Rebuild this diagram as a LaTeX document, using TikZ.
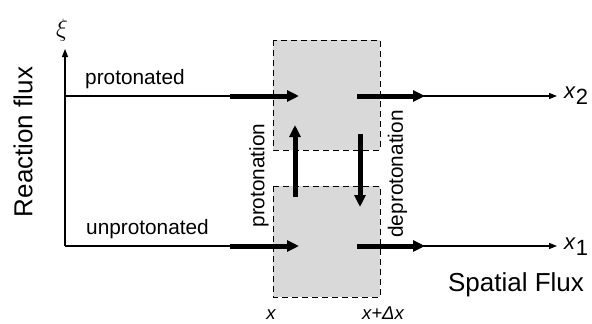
\documentclass[tikz,border=0pt]{standalone}
\usepackage{fontspec}
\setmainfont{Liberation Sans}
\usetikzlibrary{arrows.meta}
\tikzset{
  thinarrow/.style={line width=1.1pt,-{Triangle[length=8pt,width=6pt]}},
  thickarrow/.style={line width=5pt,-{Triangle[length=12pt,width=11pt]}},
  cellbox/.style={fill=black!15,draw=black,line width=0.9pt,dash pattern=on 6pt off 4pt},
  lbl/.style={inner sep=0pt,font=\fontsize{20.8}{24}\selectfont},
  biglbl/.style={inner sep=0pt,font=\fontsize{26}{30}\selectfont},
  xlbl/.style={inner sep=0pt,font=\fontsize{18.5}{20}\selectfont\itshape},
}
\begin{document}
\begin{tikzpicture}[x=1pt,y=-1pt]
\useasboundingbox (0,0) rectangle (592,324);
% coordinates
\coordinate (origin) at (65,246);
\coordinate (ytop) at (65,49);
\coordinate (topstart) at (65,96);
\coordinate (topend) at (557,96);
\coordinate (botend) at (557,246);
% thin lines
\draw[thinarrow] (origin) -- (ytop);
\draw[thinarrow] (topstart) -- (topend);
\draw[thinarrow] (origin) -- (botend);
% boxes
\draw[cellbox] (273,40) rectangle (380,150);
\draw[cellbox] (273,186) rectangle (380,297);
% thick arrows
\coordinate (a1) at (230,96); \coordinate (a2) at (299,96);
\coordinate (a3) at (357,96); \coordinate (a4) at (425,96);
\coordinate (b1) at (230,246); \coordinate (b2) at (299,246);
\coordinate (b3) at (357,246); \coordinate (b4) at (425,246);
\coordinate (u1) at (295,197); \coordinate (u2) at (295,125);
\coordinate (d1) at (360,134); \coordinate (d2) at (360,207);
\draw[thickarrow] (a1) -- (a2);
\draw[thickarrow] (a3) -- (a4);
\draw[thickarrow] (b1) -- (b2);
\draw[thickarrow] (b3) -- (b4);
\draw[thickarrow] (u1) -- (u2);
\draw[thickarrow] (d1) -- (d2);
% labels
\node[lbl,anchor=base west] (prot) at (85,84.5) {protonated};
\node[lbl,anchor=base west] (unprot) at (86,234.5) {unprotonated};
\node[lbl,rotate=90] (protn) at (259,175.5) {protonation};
\node[lbl,rotate=90] (deprotn) at (397.5,174) {deprotonation};
\node[biglbl,rotate=90] (rflux) at (23,142) {Reaction flux};
\node[biglbl] (sflux) at (516,285) {Spatial Flux};
\node[inner sep=0pt,font=\fontsize{30}{32}\selectfont] (xi) at (62,30) {$\xi$};
\node[xlbl,anchor=base] (xl) at (271,319.5) {x};
\node[xlbl,anchor=base] (xdl) at (383,319.5) {x+Δx};
\node[inner sep=0pt,anchor=west,font=\fontsize{22}{24}\selectfont] (x2) at (564,96) {\textit{x}\raisebox{-6pt}{2}};
\node[inner sep=0pt,anchor=west,font=\fontsize{22}{24}\selectfont] (x1) at (564,247) {\textit{x}\raisebox{-6pt}{1}};
\end{tikzpicture}
\end{document}
